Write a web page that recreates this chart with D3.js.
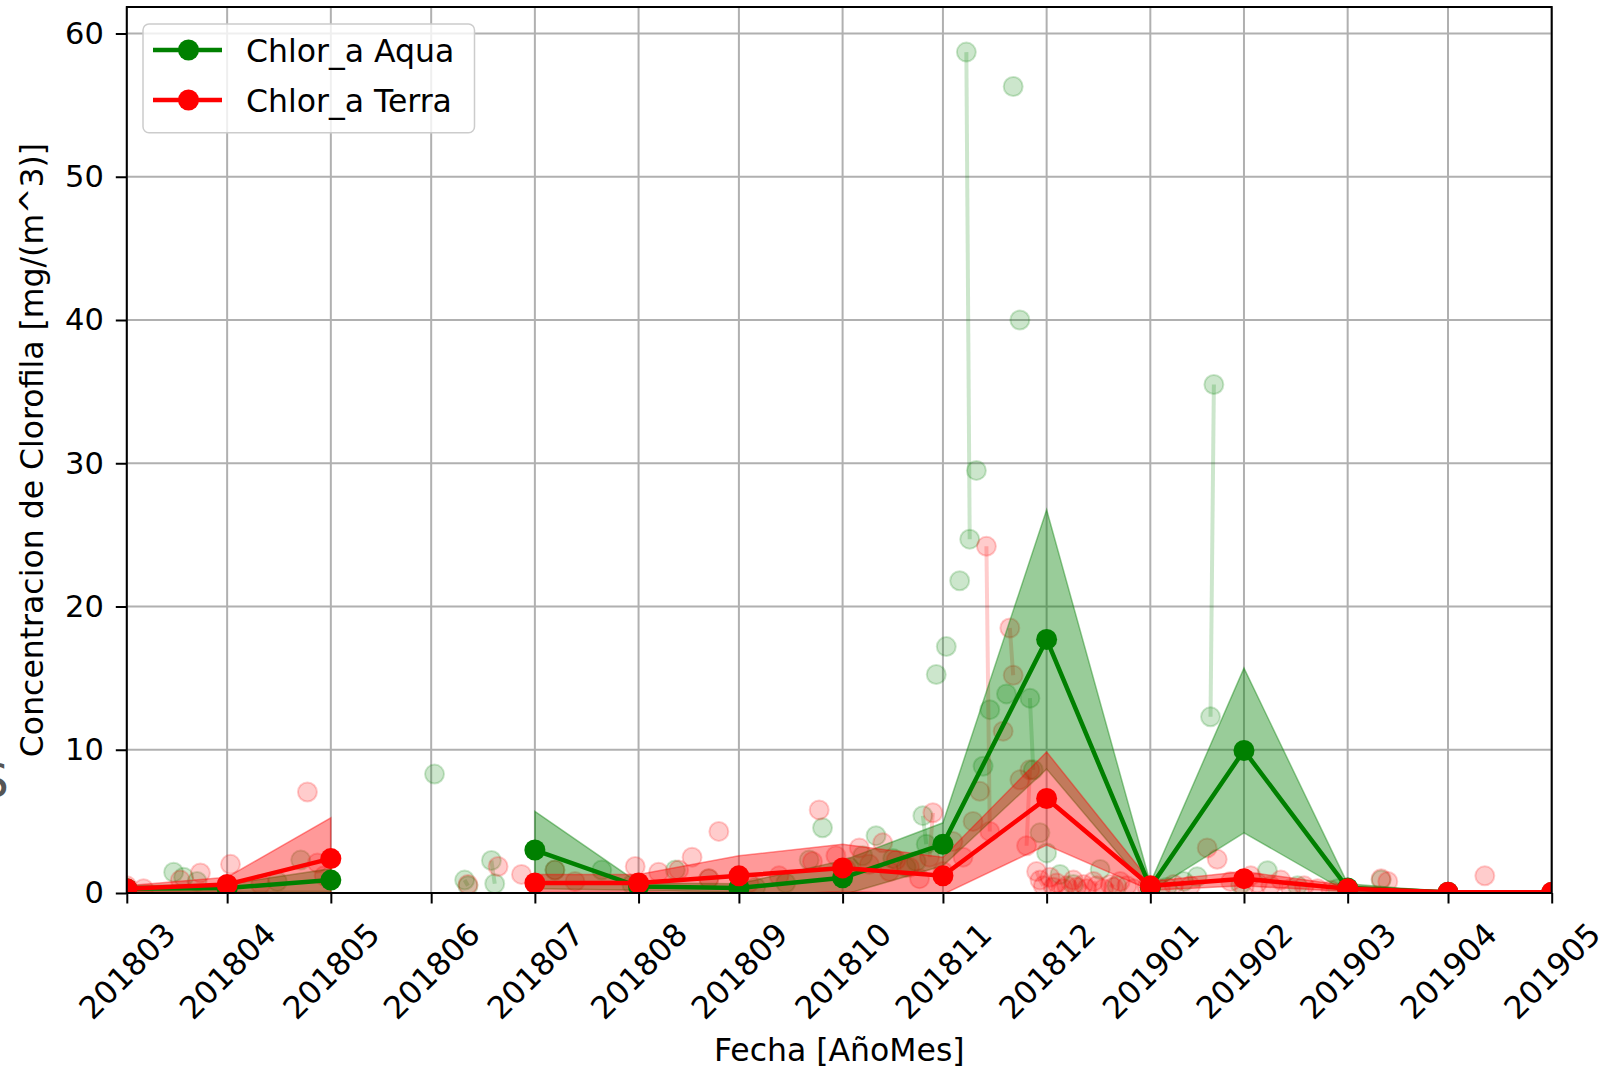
<!DOCTYPE html>
<html>
<head>
<meta charset="utf-8">
<script src="https://cdn.jsdelivr.net/npm/d3@7"></script>
<style>
  body { margin: 0; background: #fff; }
  text { font-family: "DejaVu Sans", sans-serif; }
</style>
</head>
<body>
<svg id="chart" width="1619" height="1067"></svg>
<script>
// Tick labels (AñoMes) and the date each one sits on
const months = ["201803","201804","201805","201806","201807","201808","201809","201810",
                "201811","201812","201901","201902","201903","201904","201905"];
const monthDates = ["2018-03-01","2018-03-31","2018-05-01","2018-05-31","2018-07-01","2018-08-01",
                    "2018-08-31","2018-10-01","2018-10-31","2018-12-01","2019-01-01","2019-01-29",
                    "2019-03-01","2019-03-31","2019-05-01"];

// Monthly mean and std (null = no data that month)
const aquaMean  = [0.3, 0.35, 0.9, null, 3.0, 0.45, 0.35, 1.06, 3.4, 17.7, 0.4, 9.95, 0.35, 0.05, 0.03];
const aquaStd   = [0.2, 0.25, 0.8, null, 2.7, 0.25, 0.3, 1.2, 1.5, 9.05, 0.3, 5.75, 0.3, 0.02, 0.02];
const terraMean = [0.3, 0.6, 2.4, null, 0.7, 0.7, 1.2, 1.75, 1.2, 6.6, 0.5, 1.0, 0.3, 0.05, 0.05];
const terraStd  = [0.2, 0.5, 2.85, null, 0.6, 0.6, 1.4, 1.65, 1.3, 3.25, 0.3, 0.5, 0.2, 0.03, 0.03];

// Daily observations, Aqua
const aquaObsDates = ["2018-03-15","2018-03-18","2018-03-22","2018-04-15","2018-04-22","2018-06-01",
  "2018-06-10","2018-06-11","2018-06-18","2018-06-19","2018-07-07","2018-07-21","2018-07-30",
  "2018-08-12","2018-08-22","2018-09-05","2018-09-14","2018-09-21","2018-09-25","2018-10-03",
  "2018-10-07","2018-10-11","2018-10-16","2018-10-20","2018-10-23","2018-10-25","2018-10-26",
  "2018-10-29","2018-11-01","2018-11-05","2018-11-07","2018-11-08","2018-11-10","2018-11-12",
  "2018-11-14","2018-11-19","2018-11-21","2018-11-23","2018-11-26","2018-11-27","2018-11-29",
  "2018-12-01","2018-12-05","2018-12-09","2018-12-17","2018-12-22","2019-01-06","2019-01-11",
  "2019-01-15","2019-01-19","2019-01-20","2019-01-28","2019-02-05","2019-02-14","2019-02-26",
  "2019-03-11"];
const aquaObsValues = [1.45, 1.1, 0.8, 0.8, 2.3, 8.3,
  0.9, 0.5, 2.27, 0.65, 1.6, 1.6, 0.6,
  1.6, 1.0, 0.4, 0.7, 2.3, 4.55, 1.8,
  2.6, 4.0, 2.4, 1.8, 2.2, 5.4, 3.4,
  15.25, 17.2, 21.8, 58.7, 24.7, 29.5, 8.85,
  12.8, 13.9, 56.3, 40.0, 13.6, 8.6, 4.2,
  2.8, 1.3, 0.6, 1.64, 0.5, 0.4, 0.8,
  1.13, 12.3, 35.5, 0.6, 1.55, 0.5, 0.3,
  0.9];

// Daily observations, Terra
const terraObsDates = ["2018-03-01","2018-03-06","2018-03-17","2018-03-23","2018-04-01","2018-04-10",
  "2018-04-24","2018-04-27","2018-04-29","2018-06-11","2018-06-20","2018-06-27","2018-07-07",
  "2018-07-13","2018-07-31","2018-08-07","2018-08-13","2018-08-17","2018-08-22","2018-08-25",
  "2018-09-03","2018-09-12","2018-09-22","2018-09-24","2018-09-29","2018-10-02","2018-10-06",
  "2018-10-09","2018-10-13","2018-10-15","2018-10-17","2018-10-21","2018-10-24","2018-10-27",
  "2018-10-28","2018-10-31","2018-11-03","2018-11-06","2018-11-09","2018-11-11","2018-11-13",
  "2018-11-14","2018-11-18","2018-11-20","2018-11-21","2018-11-23","2018-11-25","2018-11-26",
  "2018-11-28","2018-11-29","2018-11-30","2018-12-02","2018-12-03","2018-12-04","2018-12-06",
  "2018-12-07","2018-12-09","2018-12-10","2018-12-12","2018-12-13","2018-12-15","2018-12-16",
  "2018-12-18","2018-12-20","2018-12-21","2018-12-23","2018-12-25","2018-12-27","2018-12-31",
  "2019-01-04","2019-01-08","2019-01-13","2019-01-18","2019-01-21","2019-01-25","2019-01-29",
  "2019-01-31","2019-02-02","2019-02-06","2019-02-09","2019-02-12","2019-02-16","2019-02-20",
  "2019-02-24","2019-03-11","2019-03-13","2019-04-11"];
const terraObsValues = [0.5, 0.3, 0.9, 1.4, 2.0, 0.6,
  7.05, 2.1, 1.2, 0.6, 1.85, 1.3, 1.6,
  0.8, 1.85, 1.45, 1.6, 2.5, 1.0, 4.3,
  0.7, 1.2, 2.2, 5.8, 2.6, 1.7, 3.15,
  2.0, 3.5, 1.5, 2.3, 1.8, 1.0, 2.5,
  5.6, 1.5, 3.6, 2.5, 5.0, 7.1, 24.2,
  4.3, 11.3, 18.5, 15.2, 7.9, 3.3, 8.6,
  1.5, 0.9, 0.5, 1.1, 0.4, 0.7, 0.3,
  0.5, 0.9, 0.4, 0.6, 0.3, 0.8, 0.5,
  0.3, 0.6, 0.4, 0.8, 0.5, 0.3, 0.4,
  0.3, 0.6, 0.5, 3.15, 2.35, 0.8, 0.4,
  1.2, 0.7, 0.5, 0.9, 0.3, 0.5, 0.3,
  0.2, 1.0, 0.8, 1.2];

const yTicks = [0, 10, 20, 30, 40, 50, 60];

// Layout
const margin = {top: 7, right: 1619 - 1551.7, bottom: 1067 - 893, left: 126.8};
const width = 1619 - margin.left - margin.right,
      height = 1067 - margin.top - margin.bottom;
const FS = 31.5;

const parse = d3.utcParse("%Y-%m-%d");

const svg = d3.select("#chart");
const g = svg.append("g").attr("transform", "translate(" + margin.left + "," + margin.top + ")");

const x = d3.scaleUtc()
  .domain([parse("2018-03-01"), parse("2019-05-01")])
  .range([0, width]);
const y = d3.scaleLinear()
  .domain([0, 61.85])
  .range([height, 0]);

// clip to the axes area
svg.append("defs").append("clipPath").attr("id", "clip")
  .append("rect").attr("width", width).attr("height", height);

// Grid
g.append("g").selectAll("line").data(monthDates).enter().append("line")
  .attr("x1", d => x(parse(d))).attr("x2", d => x(parse(d)))
  .attr("y1", 0).attr("y2", height)
  .attr("stroke", "#b0b0b0").attr("stroke-width", 2);
g.append("g").selectAll("line").data(yTicks).enter().append("line")
  .attr("x1", 0).attr("x2", width)
  .attr("y1", d => y(d)).attr("y2", d => y(d))
  .attr("stroke", "#b0b0b0").attr("stroke-width", 2);

const plot = g.append("g").attr("clip-path", "url(#clip)");

// Daily observations: circles, joined only on consecutive days
function drawObs(dates, values, color) {
  const pts = dates.map((d, i) => ({date: parse(d), v: values[i]}));
  const runs = [];
  pts.forEach((p, i) => {
    const prev = pts[i - 1];
    if (prev && (p.date - prev.date) <= 86400000) runs[runs.length - 1].push(p);
    else runs.push([p]);
  });
  const line = d3.line().x(p => x(p.date)).y(p => y(p.v));
  plot.append("g").selectAll("path").data(runs.filter(r => r.length > 1)).enter().append("path")
    .attr("d", line)
    .attr("fill", "none")
    .attr("stroke", color).attr("stroke-opacity", 0.2).attr("stroke-width", 4);
  plot.append("g").selectAll("circle").data(pts).enter().append("circle")
    .attr("cx", p => x(p.date)).attr("cy", p => y(p.v)).attr("r", 9.5)
    .attr("fill", color).attr("fill-opacity", 0.2)
    .attr("stroke", color).attr("stroke-opacity", 0.2).attr("stroke-width", 2);
}
drawObs(aquaObsDates, aquaObsValues, "#008000");
drawObs(terraObsDates, terraObsValues, "#ff0000");

// Mean +- std bands
function drawBand(mean, std, color) {
  const rows = monthDates.map((d, i) => ({date: parse(d), m: mean[i], s: std[i]}));
  const area = d3.area()
    .defined(r => r.m != null)
    .x(r => x(r.date))
    .y0(r => y(r.m - r.s))
    .y1(r => y(r.m + r.s));
  plot.append("path").datum(rows)
    .attr("d", area)
    .attr("fill", color).attr("fill-opacity", 0.4)
    .attr("stroke", color).attr("stroke-opacity", 0.4).attr("stroke-width", 1.5);
}
drawBand(aquaMean, aquaStd, "#008000");
drawBand(terraMean, terraStd, "#ff0000");

// Monthly mean lines with markers
function drawMean(mean, color) {
  const rows = monthDates.map((d, i) => ({date: parse(d), m: mean[i]}));
  plot.append("path").datum(rows)
    .attr("d", d3.line().defined(r => r.m != null).x(r => x(r.date)).y(r => y(r.m)))
    .attr("fill", "none").attr("stroke", color).attr("stroke-width", 4.5);
  plot.append("g").selectAll("circle").data(rows.filter(r => r.m != null)).enter().append("circle")
    .attr("cx", r => x(r.date)).attr("cy", r => y(r.m)).attr("r", 10.5)
    .attr("fill", color);
}
drawMean(aquaMean, "#008000");
drawMean(terraMean, "#ff0000");

// Axes
const xAxis = g.append("g")
  .attr("transform", "translate(0," + height + ")")
  .call(d3.axisBottom(x)
    .tickValues(monthDates.map(parse))
    .tickFormat((d, i) => months[i])
    .tickSize(10.5));
xAxis.select(".domain").remove();
xAxis.selectAll(".tick line").attr("stroke", "#000").attr("stroke-width", 2);
xAxis.selectAll(".tick text")
  .attr("y", 0).attr("dy", "0.35em")
  .attr("text-anchor", "middle")
  .attr("transform", "translate(0,78) rotate(-45)")
  .attr("fill", "#000")
  .style("font-size", FS + "px")
  .style("font-family", "DejaVu Sans");

const yAxis = g.append("g")
  .call(d3.axisLeft(y).tickValues(yTicks).tickSize(11).tickPadding(12));
yAxis.select(".domain").remove();
yAxis.selectAll(".tick line").attr("stroke", "#000").attr("stroke-width", 2);
yAxis.selectAll(".tick text")
  .attr("fill", "#000")
  .style("font-size", "30.5px")
  .style("font-family", "DejaVu Sans");

// Frame
g.append("rect")
  .attr("width", width).attr("height", height)
  .attr("fill", "none").attr("stroke", "#000").attr("stroke-width", 2);

// Axis labels
svg.append("text")
  .attr("x", margin.left + width / 2).attr("y", 1061)
  .attr("text-anchor", "middle")
  .style("font-size", FS + "px")
  .text("Fecha [AñoMes]");
svg.append("text")
  .attr("transform", "translate(43," + (margin.top + height / 2) + ") rotate(-90)")
  .attr("text-anchor", "middle")
  .style("font-size", FS + "px")
  .text("Concentracion de Clorofila [mg/(m^3)]");

// stray glyph cut off at the left edge of the original figure
svg.append("text")
  .attr("x", -21).attr("y", 797)
  .attr("fill", "#555")
  .style("font-size", "47px")
  .text("S");

// Legend
const legend = svg.append("g").attr("transform", "translate(143,24)");
legend.append("rect")
  .attr("width", 331.5).attr("height", 108.7).attr("rx", 6)
  .attr("fill", "#fff").attr("fill-opacity", 0.8)
  .attr("stroke", "#cccccc").attr("stroke-width", 1.5);
const legendItems = [{label: "Chlor_a Aqua", color: "#008000"}, {label: "Chlor_a Terra", color: "#ff0000"}];
legendItems.forEach((item, i) => {
  const cy = 26 + i * 50;
  legend.append("line")
    .attr("x1", 10).attr("x2", 79).attr("y1", cy).attr("y2", cy)
    .attr("stroke", item.color).attr("stroke-width", 4.5);
  legend.append("circle")
    .attr("cx", 45.5).attr("cy", cy).attr("r", 10.5).attr("fill", item.color);
  legend.append("text")
    .attr("x", 103).attr("y", cy + 11.5)
    .style("font-size", FS + "px")
    .text(item.label);
});
</script>
</body>
</html>
